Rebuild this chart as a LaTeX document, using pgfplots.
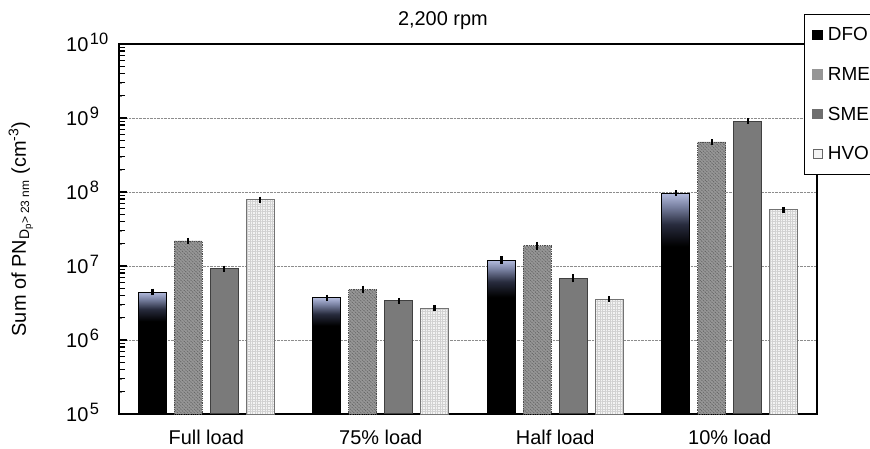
\documentclass[border=0pt]{standalone}
\usepackage{fontspec}
\setmainfont{Liberation Sans}
\usepackage{pgfplots}
\usepackage{pgfplotstable}
\pgfplotsset{compat=1.18}
\usetikzlibrary{patterns.meta}

\definecolor{dfotop}{RGB}{180,188,222}
\definecolor{dfomid}{RGB}{120,128,160}
\definecolor{dfolow}{RGB}{40,44,62}
\definecolor{rmefill}{RGB}{150,150,150}
\definecolor{rmeline}{RGB}{95,95,95}
\definecolor{smefill}{RGB}{122,122,122}
\definecolor{hvofill}{RGB}{243,243,243}
\pgfdeclareverticalshading{dfoshade}{100bp}{color(0bp)=(black); color(63bp)=(black); color(68bp)=(dfolow); color(72bp)=(dfomid); color(75bp)=(dfotop); color(100bp)=(dfotop)}

\newcommand\tp[1]{10\hspace{1.5bp}\raisebox{7bp}{\fontsize{16.5}{17}\selectfont #1}}

\pgfplotstableread{
x y e
-0.103 2.18e7 0.05e7
0.897 4.84e6 0.2e6
1.897 1.88e7 0.08e7
2.897 4.74e8 0.06e8
}\rme
\pgfplotstableread{
x y e
0.103 9.2e6 0.2e6
1.103 3.37e6 0.06e6
2.103 6.8e6 0.35e6
3.103 9.1e8 0.1e8
}\sme
\pgfplotstableread{
x y e
0.309 7.9e7 0.15e7
1.309 2.68e6 0.04e6
2.309 3.58e6 0.06e6
3.309 5.77e7 0.08e7
}\hvo

\begin{document}
\begin{tikzpicture}
\useasboundingbox (-119bp,-35bp) rectangle (751bp,414bp);
\begin{axis}[
  scale only axis, width=698bp, height=370bp,
  clip=false,
  xmin=-0.5, xmax=3.5,
  ymode=log, ymin=1e5, ymax=1e10, log origin=infty,
  xtick={0,1,2,3},
  xticklabels={Full load,75\% load,Half load,10\% load},
  xtick style={draw=none},
  xticklabel style={font=\fontsize{20}{24}\selectfont, anchor=base, yshift=-31bp, inner sep=0pt},
  ytick={1e5,1e6,1e7,1e8,1e9,1e10},
  yticklabels={\tp{5},\tp{6},\tp{7},\tp{8},\tp{9},\tp{10}},
  yticklabel style={font=\fontsize{20}{24}\selectfont, anchor=base west, inner sep=0pt, xshift=-53bp, yshift=-7.5bp},
  ytick pos=left, tick align=inside,
  axis line style={line width=1.3bp},
  ymajorgrids, major grid style={densely dotted, black!45, line width=0.7bp},
  title={2,200 rpm},
  title style={font=\fontsize{20}{24}\selectfont, at={(0.464,1)}, anchor=base, yshift=13bp},
  ylabel={Sum of PN\textsubscript{D\textsubscript{p}{\fontsize{12}{12}\selectfont > 23 nm}} (cm\textsuperscript{-3})},
  every axis y label/.style={at={(axis description cs:-0.1405,0.5)}, rotate=90, anchor=center, font=\fontsize{20}{24}\selectfont},
  error bars/y dir=both, error bars/y explicit,
  error bars/error bar style={black, line width=0.5bp},
  error bars/error mark options={black, line width=2.4bp, mark size=2.4bp},
  legend style={at={(axis description cs:0.981,1.081)}, anchor=north west, draw=black, line width=1.2bp, fill=white,
    font=\fontsize{19}{20}\selectfont, row sep=21bp, inner xsep=8bp, inner ysep=11bp},
  legend cell align=left,
]
\addlegendimage{legend image code/.code={\fill[black] (0bp,-4.5bp) rectangle (9bp,4.5bp); \path[draw=none,fill=none] (0bp,0bp) rectangle (13bp,0.1bp);}}
\addlegendentry{DFO}
\addlegendimage{legend image code/.code={\fill[rmefill] (0bp,-4.5bp) rectangle (9bp,4.5bp); \path[draw=none,fill=none] (0bp,0bp) rectangle (13bp,0.1bp);}}
\addlegendentry{RME}
\addlegendimage{legend image code/.code={\fill[smefill!90!black] (0bp,-4.5bp) rectangle (9bp,4.5bp); \path[draw=none,fill=none] (0bp,0bp) rectangle (13bp,0.1bp);}}
\addlegendentry{SME}
\addlegendimage{legend image code/.code={\filldraw[fill=hvofill, draw=black!60, line width=0.6bp] (0bp,-4.5bp) rectangle (9bp,4.5bp); \path[draw=none,fill=none] (0bp,0bp) rectangle (13bp,0.1bp);}}
\addlegendentry{HVO}

\addplot[ybar, bar width=0.16, bar shift=0pt, draw=black, line width=0.8bp, shading=dfoshade, forget plot]
  coordinates {(-0.309,4.45e6) +- (0,0.14e6)};
\addplot[ybar, bar width=0.16, bar shift=0pt, draw=black, line width=0.8bp, shading=dfoshade, forget plot]
  coordinates {(0.691,3.73e6) +- (0,0.08e6)};
\addplot[ybar, bar width=0.16, bar shift=0pt, draw=black, line width=0.8bp, shading=dfoshade, forget plot]
  coordinates {(1.691,1.2e7) +- (0,0.06e7)};
\addplot[ybar, bar width=0.16, bar shift=0pt, draw=black, line width=0.8bp, shading=dfoshade, forget plot]
  coordinates {(2.691,9.6e7) +- (0,0.15e7)};

\addplot[ybar, bar width=0.16, bar shift=0pt, draw=black!70, densely dotted, line width=0.8bp, fill=rmefill,
  postaction={pattern={Lines[angle=-45,distance=2.4bp,line width=0.6bp]}, pattern color=rmeline}, forget plot]
  table[x=x, y=y, y error=e] {\rme};
\addplot[ybar, bar width=0.16, bar shift=0pt, draw=black!75, line width=1bp, fill=smefill, forget plot]
  table[x=x, y=y, y error=e] {\sme};
\addplot[ybar, bar width=0.16, bar shift=0pt, draw=black!55, line width=0.8bp, fill=hvofill,
  postaction={pattern={Hatch[distance=2.5bp,line width=0.3bp]}, pattern color=black!18}, forget plot]
  table[x=x, y=y, y error=e] {\hvo};

\pgfplotsinvokeforeach{1e6,1e7,1e8,1e9}{
  \draw[black, line width=1.6bp] (axis cs:-0.5,#1) -- ++(8bp,0bp);
}
\pgfplotsinvokeforeach{2e5,3e5,4e5,5e5,6e5,7e5,8e5,9e5,
  2e6,3e6,4e6,5e6,6e6,7e6,8e6,9e6,
  2e7,3e7,4e7,5e7,6e7,7e7,8e7,9e7,
  2e8,3e8,4e8,5e8,6e8,7e8,8e8,9e8,
  2e9,3e9,4e9,5e9,6e9,7e9,8e9,9e9}{
  \draw[black, line width=1.4bp] (axis cs:-0.5,#1) -- ++(6bp,0bp);
}
\end{axis}
\end{tikzpicture}
\end{document}
